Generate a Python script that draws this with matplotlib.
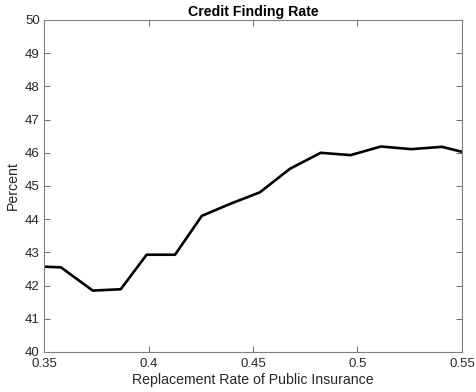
import matplotlib
matplotlib.use("Agg")
import matplotlib.pyplot as plt

replacement_rate = [0.35, 0.3581, 0.3733, 0.3867, 0.3991, 0.4127, 0.4255, 0.4394,
                    0.4533, 0.4677, 0.4824, 0.4967, 0.5112, 0.5257, 0.5404, 0.55]
finding_rate = [42.57, 42.55, 41.85, 41.89, 42.93, 42.93, 44.10, 44.47,
                44.81, 45.52, 46.00, 45.93, 46.19, 46.11, 46.18, 46.03]
x_ticks = [0.35, 0.4, 0.45, 0.5, 0.55]
x_tick_labels = ["0.35", "0.4", "0.45", "0.5", "0.55"]
y_ticks = list(range(40, 51))

plt.rcParams['font.family'] = ['Liberation Sans', 'DejaVu Sans']
fig = plt.figure(figsize=(4.77, 3.92), dpi=100)
ax = fig.add_axes([44/477, 40/392, 418/477, 332/392])
ax.plot(replacement_rate, finding_rate, color='black', linewidth=1.9)
ax.set_xlim(0.35, 0.55)
ax.set_ylim(40, 50)
ax.set_xticks(x_ticks)
ax.set_xticklabels(x_tick_labels)
ax.set_yticks(y_ticks)
gray = '#262626'
for s in ax.spines.values():
    s.set_color('#7f7f7f')
    s.set_linewidth(0.8)
ax.tick_params(direction='in', length=4, width=0.6, color='#555555',
               top=True, right=True, labelsize=9.5, labelcolor=gray)
ax.tick_params(axis='x', pad=4.5)
ax.tick_params(axis='y', pad=3)
ax.set_title('Credit Finding Rate', fontsize=10.2, fontweight='bold', color='black', pad=3)
ax.set_xlabel('Replacement Rate of Public Insurance', fontsize=10.2, color=gray, labelpad=2)
ax.set_ylabel('Percent', fontsize=10.2, color=gray, labelpad=4)
fig.savefig('out.png', dpi=100)
